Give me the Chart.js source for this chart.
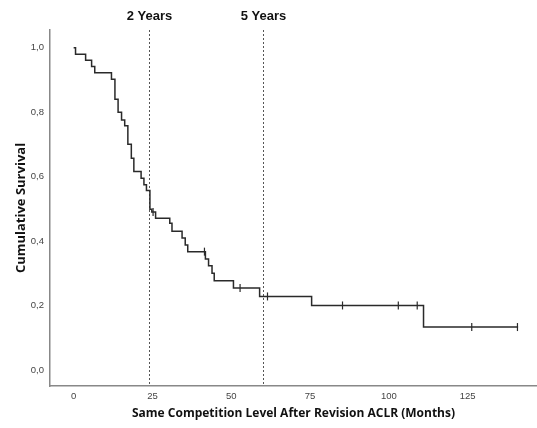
<!DOCTYPE html>
<html>
<head>
<meta charset="utf-8">
<script src="https://cdn.jsdelivr.net/npm/chart.js@4"></script>
<style>
  html, body { margin: 0; padding: 0; background: #fff; }
</style>
</head>
<body>
<canvas id="chKM" width="537" height="428"></canvas>
<script>
// survival steps (month, cumulative survival after the event)
var months   = [0, 0.6, 3.8, 5.7, 6.7, 12.0, 13.1, 14.1, 15.2, 16.2, 17.2, 18.3, 19.1, 21.4, 22.3, 23.1, 24.2, 24.8, 26.0, 30.5, 31.2, 34.4, 35.4, 36.2, 41.8, 42.8, 43.9, 44.6, 50.7, 59.0, 75.5, 111.0, 141.0];
var survival = [1.0, 0.98, 0.961, 0.942, 0.922, 0.902, 0.84, 0.80, 0.776, 0.758, 0.70, 0.657, 0.616, 0.595, 0.575, 0.557, 0.499, 0.49, 0.471, 0.455, 0.43, 0.409, 0.388, 0.367, 0.344, 0.323, 0.30, 0.277, 0.254, 0.228, 0.2, 0.133, 0.133];

// censored cases
var censorMonths   = [25.2, 41.5, 52.8, 61.5, 85.3, 103.0, 109.0, 126.3, 140.8];
var censorSurvival = [0.49, 0.367, 0.254, 0.228, 0.2, 0.2, 0.2, 0.133, 0.133];

// axes
var xTicks = [0, 25, 50, 75, 100, 125];
var yTicks = [0, 0.2, 0.4, 0.6, 0.8, 1.0];

// reference lines
var markerMonths = [24, 60];
var markerLabels = ['2 Years', '5 Years'];

var kmPoints = months.map(function(m, i) { return {x: m, y: survival[i]}; });
var censorPoints = censorMonths.map(function(m, i) { return {x: m, y: censorSurvival[i]}; });

var markerPlugin = {
  id: 'markers',
  beforeDatasetsDraw: function(chart) {
    var ctx = chart.ctx, area = chart.chartArea, xs = chart.scales.x;
    ctx.save();
    markerMonths.forEach(function(m, i) {
      var px = Math.round(xs.getPixelForValue(m)) + 0.5;
      ctx.strokeStyle = '#555';
      ctx.lineWidth = 1;
      ctx.setLineDash([2, 2]);
      ctx.beginPath();
      ctx.moveTo(px, area.top);
      ctx.lineTo(px, area.bottom);
      ctx.stroke();
      ctx.fillStyle = '#111';
      ctx.font = 'bold 13px "Liberation Sans", Arial, sans-serif';
      ctx.textAlign = 'center';
      ctx.textBaseline = 'middle';
      ctx.fillText(markerLabels[i], px, 16);
    });
    ctx.restore();
  }
};

var tickFont = {family: '"Liberation Sans", Arial, sans-serif', size: 9.5};
var titleFont = {family: '"Open Sans", "Noto Sans", sans-serif', size: 12, weight: 'bold'};

new Chart(document.getElementById('chKM'), {
  type: 'line',
  data: {
    datasets: [
      {
        data: kmPoints,
        stepped: 'before',
        borderColor: '#2a2a2a',
        borderWidth: 1.5,
        pointRadius: 0,
        fill: false
      },
      {
        type: 'scatter',
        data: censorPoints,
        pointStyle: 'line',
        rotation: 90,
        pointRadius: 4,
        hoverRadius: 4,
        borderColor: '#2a2a2a',
        borderWidth: 1.2,
        showLine: false
      }
    ]
  },
  options: {
    responsive: false,
    animation: false,
    devicePixelRatio: 1,
    layout: {autoPadding: false, padding: {top: 30, right: 0, left: 0, bottom: 0}},
    plugins: {legend: {display: false}, tooltip: {enabled: false}},
    scales: {
      x: {
        type: 'linear',
        min: -7.5,
        max: 147,
        afterBuildTicks: function(s) { s.ticks = xTicks.map(function(v) { return {value: v}; }); },
        afterFit: function(s) { s.height = 42; },
        grid: {display: false, drawTicks: false},
        border: {display: true, color: '#888', width: 1.5},
        ticks: {font: tickFont, color: '#444', padding: 5, maxRotation: 0},
        title: {display: true, text: 'Same Competition Level After Revision ACLR (Months)', font: titleFont, color: '#111', padding: {top: 4, bottom: 7}}
      },
      y: {
        type: 'linear',
        min: -0.05,
        max: 1.055,
        afterBuildTicks: function(s) { s.ticks = yTicks.map(function(v) { return {value: v}; }); },
        afterFit: function(s) { s.width = 50; },
        grid: {display: false, drawTicks: false},
        border: {display: true, color: '#888', width: 1.5},
        ticks: {
          font: tickFont, color: '#444', padding: 6,
          callback: function(v) { return v.toFixed(1).replace('.', ','); }
        },
        title: {display: true, text: 'Cumulative Survival', font: {family: titleFont.family, size: 13, weight: 'bold'}, color: '#111', padding: {top: 13, bottom: 4}}
      }
    }
  },
  plugins: [markerPlugin]
});
</script>
</body>
</html>
